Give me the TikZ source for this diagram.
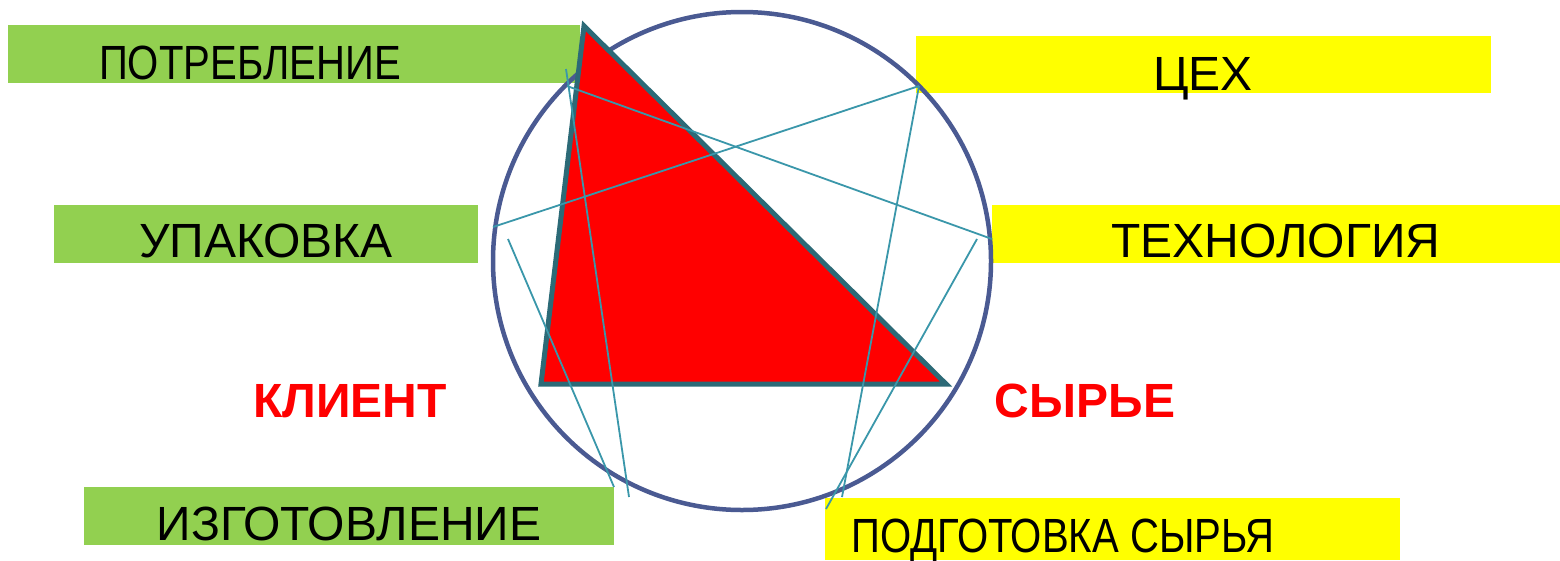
\documentclass[tikz,border=0pt]{standalone}
\usepackage{fontspec}
\newfontfamily\labfont{Liberation Sans}
\newfontfamily\narrowfont{Liberation Sans}[FakeStretch=0.835]
\newfontfamily\redfont{Liberation Sans}
\definecolor{boxgreen}{HTML}{92D050}
\definecolor{boxyellow}{HTML}{FFFF00}
\definecolor{trired}{HTML}{FF0000}
\definecolor{triedge}{HTML}{2C6A77}
\definecolor{ringblue}{HTML}{4A5A92}
\definecolor{linkteal}{HTML}{3A97AA}
\begin{document}
\begin{tikzpicture}[x=1pt,y=-1pt,
  lab/.style={anchor=base,inner sep=0pt,font=\labfont\fontsize{48}{52}\selectfont,text=black},
  narrowlab/.style={anchor=base,inner sep=0pt,font=\narrowfont\fontsize{48}{52}\selectfont,text=black},
  redlab/.style={anchor=base,inner sep=0pt,font=\redfont\bfseries\fontsize{48}{52}\selectfont,text=trired},
  link/.style={draw=linkteal,line width=1.8pt}]
\useasboundingbox (0,0) rectangle (1560,560);
\fill[white] (0,0) rectangle (1560,560);
% boxes
\fill[boxgreen] (8,25) rectangle (580,83);
\fill[boxgreen] (54,205) rectangle (478,263);
\fill[boxgreen] (84,487) rectangle (614,545);
\fill[boxyellow] (916,36) rectangle (1491,93);
\fill[boxyellow] (992,205) rectangle (1560,263);
\fill[boxyellow] (825,498) rectangle (1400,560);
% circle
\draw[ringblue,line width=4.5pt] (742,261) circle[radius=249];
% triangle
\filldraw[fill=trired,draw=triedge,line width=5pt,line join=miter]
  (584,26) -- (541,384) -- (946,384) -- cycle;
% link end points
\coordinate (p1) at (566,69);
\coordinate (p2) at (567,86);
\coordinate (c1) at (919,86);
\coordinate (u1) at (493,227);
\coordinate (u2) at (508,239);
\coordinate (t1) at (992,239);
\coordinate (t2) at (977,239);
\coordinate (i1) at (614,487);
\coordinate (i2) at (629,497);
\coordinate (g1) at (842,497);
\coordinate (g2) at (826,509);
\draw[link] (c1) -- (u1);
\draw[link] (c1) -- (g1);
\draw[link] (p1) -- (i2);
\draw[link] (p2) -- (t1);
\draw[link] (u2) -- (i1);
\draw[link] (t2) -- (g2);
% labels
\node[narrowlab] (potr) at (250,79) {ПОТРЕБЛЕНИЕ};
\node[lab] (upak) at (266,257) {УПАКОВКА};
\node[lab] (izgo) at (349,540) {ИЗГОТОВЛЕНИЕ};
\node[lab] (tseh) at (1203,90) {ЦЕХ};
\node[lab] (tehn) at (1276,257) {ТЕХНОЛОГИЯ};
\node[narrowlab] (podg) at (1063,552) {ПОДГОТОВКА СЫРЬЯ};
\node[redlab] (klient) at (350,417) {КЛИЕНТ};
\node[redlab] (syrie) at (1085,417) {СЫРЬЕ};
\end{tikzpicture}
\end{document}
